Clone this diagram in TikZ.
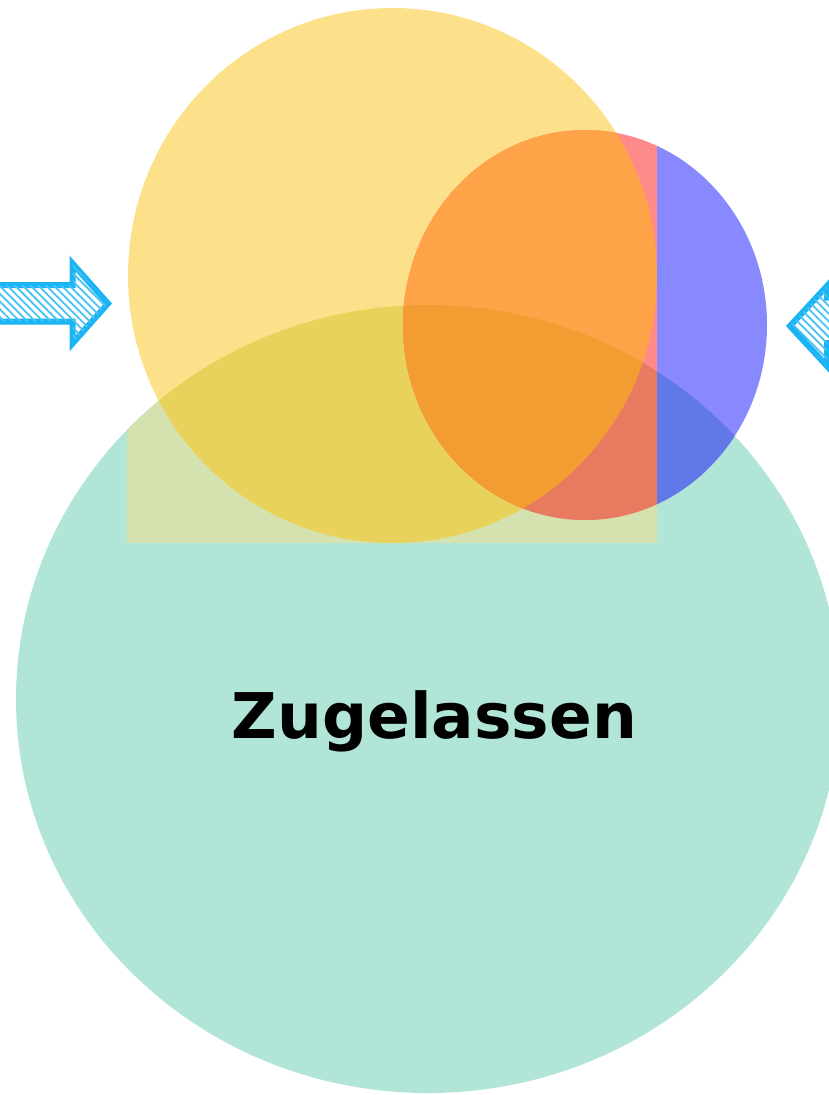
\documentclass[tikz,border=0pt]{standalone}
\usepackage{fontspec}
\newfontfamily\labelfont{DejaVu Sans}
\usetikzlibrary{patterns.meta}
\definecolor{teal0}{HTML}{B0E5D8}
\definecolor{rectteal}{HTML}{D4E2B0}
\definecolor{yel}{HTML}{FDE08A}
\definecolor{yelteal}{HTML}{E8D25C}
\definecolor{pinkc}{HTML}{FF8A8A}
\definecolor{bluec}{HTML}{8888FF}
\definecolor{blueteal}{HTML}{6078E8}
\definecolor{orangec}{HTML}{FFA348}
\definecolor{orangeteal}{HTML}{F29C32}
\definecolor{salmon}{HTML}{E87A60}
\definecolor{arrowblue}{HTML}{1AB4F5}
\definecolor{hatchblue}{HTML}{48C2F2}
\tikzset{
  blockarrow/.style={draw=arrowblue, line width=6pt, line join=miter,
    fill=white, postaction={pattern={Lines[angle=-45,distance=5.5pt,line width=1.8pt]}, pattern color=hatchblue}},
  labeltext/.style={font=\labelfont\bfseries\fontsize{63}{70}\selectfont, text=black, inner sep=0pt}
}
\begin{document}
\begin{tikzpicture}[x=1pt,y=-1pt]
\useasboundingbox (0,0) rectangle (829,1095);
\def\tealpath{(428,699) ellipse [x radius=412, y radius=394]}
\def\yelpath{(392.5,275.5) ellipse [x radius=264.5, y radius=267.5]}
\def\rectpath{(127,8) rectangle (657,543)}
\def\circpath{(585,325) ellipse [x radius=182, y radius=195]}
% teal ellipse
\fill[teal0] \tealpath;
% bounding rectangle inside teal
\begin{scope}
  \clip \tealpath;
  \fill[rectteal] \rectpath;
\end{scope}
% yellow circle
\fill[yel] \yelpath;
\begin{scope}
  \clip \yelpath;
  \fill[yelteal] \tealpath;
\end{scope}
% small circle: part outside rectangle
\begin{scope}
  \clip \circpath;
  \fill[bluec] (657,100) rectangle (800,560);
  \clip \tealpath;
  \fill[blueteal] (657,100) rectangle (800,560);
\end{scope}
% small circle: part inside rectangle
\begin{scope}
  \clip \circpath;
  \clip \rectpath;
  \fill[pinkc] \rectpath;
  \begin{scope}
    \clip \tealpath;
    \fill[salmon] \rectpath;
  \end{scope}
  \begin{scope}
    \clip \yelpath;
    \fill[orangec] \rectpath;
    \clip \tealpath;
    \fill[orangeteal] \rectpath;
  \end{scope}
\end{scope}
% arrows
\draw[blockarrow] (-10,285) -- (72.5,285) -- (72.5,263.5) -- (108,303.5) -- (72.5,343.5) -- (72.5,321.5) -- (-10,321.5) -- cycle;
\draw[blockarrow] (840,297.5) -- (827,297.5) -- (827,286) -- (790,326) -- (827,366) -- (827,343) -- (840,343) -- cycle;
% label
\node[labeltext, anchor=base] (lbl) at (434.5,738) {Zugelassen};
\end{tikzpicture}
\end{document}
